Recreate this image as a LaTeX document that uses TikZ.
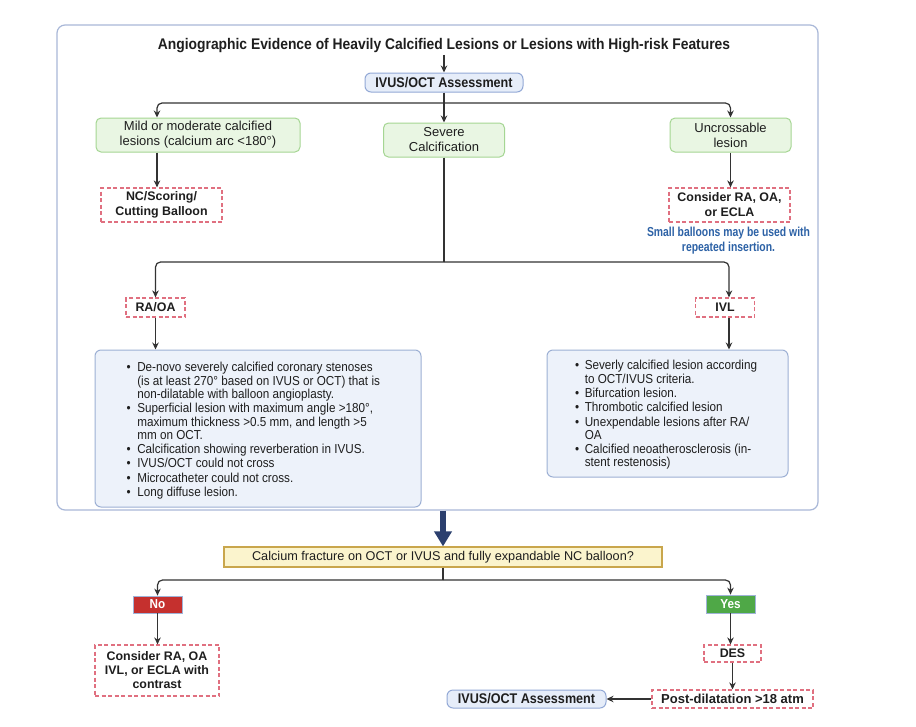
\documentclass[tikz,border=0pt]{standalone}
\usepackage{fontspec}
\setmainfont{Liberation Sans}
\newfontfamily\narrowf{Liberation Sans}[FakeStretch=0.9]
\newfontfamily\condf{Liberation Sans}[FakeStretch=0.8]
\usetikzlibrary{arrows.meta}
\newcommand{\setfs}[2]{\fontsize{#1}{#2}\selectfont}
\definecolor{lnc}{HTML}{333333}
\definecolor{txt}{HTML}{1E1E1E}
\definecolor{outerb}{HTML}{A9B8D8}
\definecolor{grf}{HTML}{E9F6E3}
\definecolor{grb}{HTML}{A5D693}
\definecolor{blf}{HTML}{EDF2FA}
\definecolor{blb}{HTML}{9DB0D4}
\definecolor{ivf}{HTML}{E6EDF9}
\definecolor{ivb}{HTML}{93A9D6}
\definecolor{dsh}{HTML}{E07080}
\definecolor{smallb}{HTML}{2D62A6}
\definecolor{yelf}{HTML}{FBF4CD}
\definecolor{yelb}{HTML}{C9A64C}
\definecolor{nof}{HTML}{C5302E}
\definecolor{yesf}{HTML}{4FA847}
\definecolor{ynb}{HTML}{9FB3D8}
\definecolor{navy}{HTML}{2B3F6E}
\tikzset{
  nbase/.style={inner sep=0pt, text=txt, align=center},
  greenbox/.style={nbase, draw=grb, fill=grf, line width=1pt, rounded corners=5pt, font=\setfs{13}{15}},
  dashbox/.style={nbase, draw=dsh, line width=1.2pt, dash pattern=on 4pt off 2.5pt, font=\bfseries\setfs{12.4}{15}},
  ivbox/.style={nbase, draw=ivb, fill=ivf, line width=1pt, rounded corners=6pt, font=\narrowf\bfseries\setfs{14}{15}},
  bluebox/.style={draw=blb, fill=blf, line width=1pt, rounded corners=6pt, inner sep=0pt},
  listtxt/.style={inner sep=0pt, anchor=north west, text=txt, font=\narrowf\setfs{13}{13}, align=left},
  ynbox/.style={nbase, draw=ynb, line width=0.8pt, text=white, font=\narrowf\bfseries\setfs{13}{15}},
  conn/.style={draw=lnc, line width=1.2pt},
  arr/.style={conn, -{Stealth[length=7pt,width=6.5pt]}},
  rc/.style={rounded corners=5pt}
}
\begin{document}
\begin{tikzpicture}[x=1pt,y=-1pt]
\fill[white] (0,0) rectangle (916,726);
\useasboundingbox (0,0) rectangle (916,726);

\node[draw=outerb, line width=1.2pt, rounded corners=8pt, minimum width=761pt, minimum height=485pt, inner sep=0pt] (outer) at (437.5,267.5) {};

\node[nbase, inner sep=2pt, font=\narrowf\bfseries\setfs{15.4}{17}] (title) at (444,45.5) {Angiographic Evidence of Heavily Calcified Lesions or Lesions with High-risk Features};
\node[ivbox, minimum width=158pt, minimum height=19pt] (ivus1) at (444,82.5) {IVUS/OCT Assessment};

\node[greenbox, minimum width=204pt, minimum height=34pt] (g1) at (198,135) {Mild or moderate calcified\\lesions (calcium arc <180°)};
\node[greenbox, minimum width=121pt, minimum height=34pt] (g2) at (444,140) {Severe\\Calcification};
\node[greenbox, minimum width=121pt, minimum height=34pt] (g3) at (730.5,135) {Uncrossable\\lesion};

\node[dashbox, minimum width=121pt, minimum height=34pt] (nc) at (161.5,205) {NC/Scoring/\\Cutting Balloon};
\node[dashbox, minimum width=121pt, minimum height=34pt] (cons1) at (729.5,205) {Consider RA, OA,\\or ECLA};
\node[nbase, text=smallb, font=\condf\bfseries\setfs{13}{15}] (small) at (728.5,240.5) {Small balloons may be used with\\repeated insertion.};

\node[dashbox, minimum width=59pt, minimum height=19pt] (raoa) at (155.5,307.5) {RA/OA};
\node[dashbox, minimum width=59pt, minimum height=19pt] (ivl) at (725,307.5) {IVL};

\node[bluebox, minimum width=326pt, minimum height=157pt] (lb) at (258,428.5) {};
\node[bluebox, minimum width=241pt, minimum height=127pt] (rb) at (667.5,413.5) {};

\node[listtxt] (lbt) at (126.5,362.3) {\begin{tabular}{@{}l@{\hspace{6.5pt}}l@{}}
\textbullet & De-novo severely calcified coronary stenoses\\
 & (is at least 270° based on IVUS or OCT) that is\\
 & non-dilatable with balloon angioplasty.\\[1pt]
\textbullet & Superficial lesion with maximum angle >180°,\\
 & maximum thickness >0.5 mm, and length >5\\
 & mm on OCT.\\[1pt]
\textbullet & Calcification showing reverberation in IVUS.\\[1pt]
\textbullet & IVUS/OCT could not cross\\[1pt]
\textbullet & Microcatheter could not cross.\\[1pt]
\textbullet & Long diffuse lesion.
\end{tabular}};

\node[listtxt] (rbt) at (575,360.3) {\begin{tabular}{@{}l@{\hspace{5.5pt}}l@{}}
\textbullet & Severly calcified lesion according\\
 & to OCT/IVUS criteria.\\[1pt]
\textbullet & Bifurcation lesion.\\[1pt]
\textbullet & Thrombotic calcified lesion\\[1pt]
\textbullet & Unexpendable lesions after RA/\\
 & OA\\[1pt]
\textbullet & Calcified neoatherosclerosis (in-\\
 & stent restenosis)
\end{tabular}};

\node[nbase, draw=yelb, fill=yelf, line width=1.2pt, minimum width=438pt, minimum height=20pt, font=\setfs{12.7}{15}] (yel) at (443,557) {Calcium fracture on OCT or IVUS and fully expandable NC balloon?};
\node[ynbox, fill=nof, minimum width=49pt, minimum height=17pt] (no) at (157.5,604.5) {No};
\node[ynbox, fill=yesf, minimum width=49pt, minimum height=18pt] (yes) at (730.5,604) {Yes};
\node[dashbox, minimum width=124pt, minimum height=51pt, font=\bfseries\setfs{12.4}{14}] (cons2) at (157,670.5) {Consider RA, OA\\IVL, or ECLA with\\contrast};
\node[dashbox, minimum width=57pt, minimum height=17pt] (des) at (732.5,653.5) {DES};
\node[dashbox, minimum width=161pt, minimum height=18pt, font=\bfseries\setfs{13}{15}] (post) at (732.5,699) {Post-dilatation >18 atm};
\node[ivbox, minimum width=159pt, minimum height=18pt] (ivus2) at (526.5,699) {IVUS/OCT Assessment};

% connectors
\coordinate (j1) at (444,103);
\coordinate (j2) at (444,262);
\coordinate (j3) at (443,580);
\draw[arr] (title.south) -- (ivus1.north);
\draw[conn] (ivus1.south) -- (j1);
\draw[arr,rc] (j1) -| ([xshift=-41pt]g1.north);
\draw[arr] (j1) -- (g2.north);
\draw[arr,rc] (j1) -| (g3.north);
\draw[arr] ([xshift=-41pt]g1.south) -- ([xshift=-41pt]g1.south |- nc.north);
\draw[arr] (g3.south) -- (g3.south |- cons1.north);
\draw[conn] (g2.south) -- (j2);
\draw[arr,rc] (j2) -| (raoa.north);
\draw[arr,rc] (j2) -| ([xshift=4pt]ivl.north);
\draw[arr] (raoa.south) -- (raoa.south |- lb.north);
\draw[arr] ([xshift=4pt]ivl.south) -- ([xshift=4pt]ivl.south |- rb.north);
\draw[navy, line width=6pt, -{Triangle[length=15pt,width=17pt]}] (yel.north |- outer.south) -- (yel.north);
\draw[conn] (yel.south) -- (j3);
\draw[arr,rc] (j3) -| (no.north);
\draw[arr,rc] (j3) -| (yes.north);
\draw[arr] (no.south) -- (no.south |- cons2.north);
\draw[arr] (yes.south) -- (yes.south |- des.north);
\draw[arr] (des.south) -- (des.south |- post.north);
\draw[arr] (post.west) -- (ivus2.east);
\end{tikzpicture}
\end{document}
